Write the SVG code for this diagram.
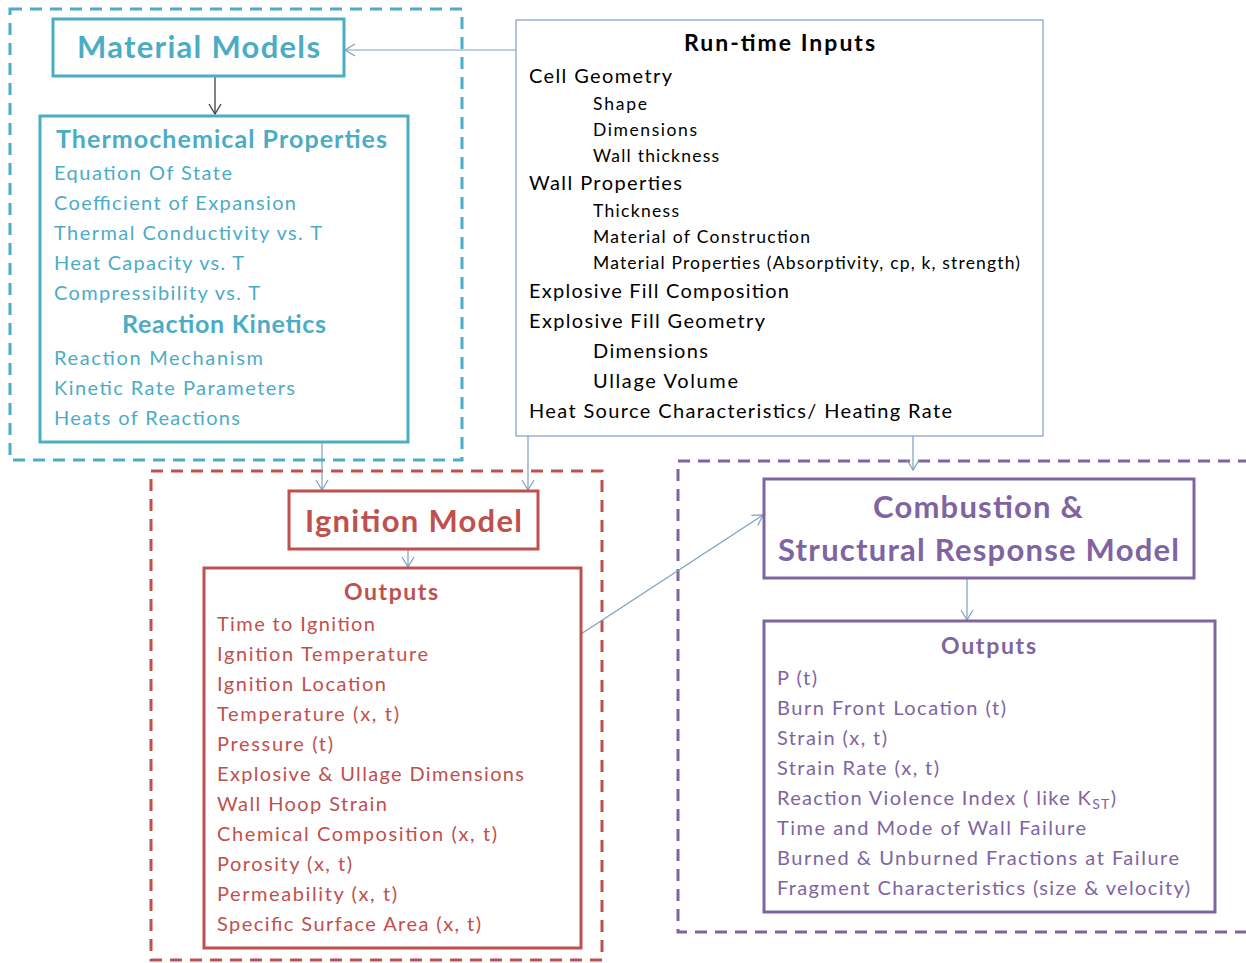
<svg xmlns="http://www.w3.org/2000/svg" width="1246" height="963" viewBox="0 0 1246 963">
<style>
text{font-family:Lato,"Liberation Sans",sans-serif}
.teal{fill:#4BACC6}.red{fill:#C0504D}.pur{fill:#8064A2}.blk{fill:#000}
.b{font-weight:bold}
.it{font-size:20px}
.rt{font-size:20px}
.sub{font-size:17.5px}
.box{fill:#fff;stroke-width:3}
.dash{fill:none;stroke-width:3;stroke-dasharray:12 8}
.con{fill:none;stroke:#7F9FC0;stroke-width:1.2}
</style>
<defs>
<marker id="ah" markerUnits="userSpaceOnUse" markerWidth="14" markerHeight="14" refX="12" refY="7" orient="auto">
<path d="M2,1 L12,7 L2,13" fill="none" stroke="#7F9FC0" stroke-width="1.2"/>
</marker>
<marker id="ahd" markerUnits="userSpaceOnUse" markerWidth="14" markerHeight="14" refX="12" refY="7" orient="auto">
<path d="M2,1 L12,7 L2,13" fill="none" stroke="#404040" stroke-width="1.3"/>
</marker>
</defs>
<rect width="1246" height="963" fill="#fff"/>

<g id="group-material">
<rect class="dash" x="10" y="9" width="452" height="451" stroke="#4BACC6"/>
</g>
<g id="group-ignition">
<rect class="dash" x="151" y="471" width="451" height="489" stroke="#C0504D"/>
</g>
<g id="group-combustion">
<path class="dash" d="M1250,461 H678 V932 H1250" stroke="#8064A2"/>
</g>

<g id="connectors">
<line class="con" x1="516" y1="50" x2="345" y2="50" marker-end="url(#ah)"/>
<line x1="215" y1="77" x2="215" y2="114" stroke="#404040" stroke-width="1.3" marker-end="url(#ahd)"/>
<line class="con" x1="322" y1="442" x2="322" y2="490" marker-end="url(#ah)"/>
<line class="con" x1="528" y1="436" x2="528" y2="490" marker-end="url(#ah)"/>
<line class="con" x1="913" y1="436" x2="913" y2="470" marker-end="url(#ah)"/>
<line class="con" x1="408" y1="550" x2="408" y2="567" marker-end="url(#ah)"/>
<line class="con" x1="581" y1="634" x2="763" y2="515" marker-end="url(#ah)"/>
<line class="con" x1="967" y1="579" x2="967" y2="620" marker-end="url(#ah)"/>
</g>

<g id="material-models">
<rect class="box" x="53" y="19" width="291" height="57" stroke="#4BACC6"/>
<text class="teal b" x="77" y="58" font-size="31" textLength="243" lengthAdjust="spacing">Material Models</text>
</g>

<g id="thermochemical">
<rect class="box" x="40" y="116" width="368" height="326" stroke="#4BACC6"/>
<text class="teal b" x="56" y="148" font-size="25" textLength="331" lengthAdjust="spacing">Thermochemical Properties</text>
<text class="teal it" x="54" y="180" textLength="178" lengthAdjust="spacing">Equation Of State</text>
<text class="teal it" x="54" y="210" textLength="242" lengthAdjust="spacing">Coefficient  of Expansion</text>
<text class="teal it" x="54" y="240" textLength="268" lengthAdjust="spacing">Thermal  Conductivity  vs. T</text>
<text class="teal it" x="54" y="270" textLength="190" lengthAdjust="spacing">Heat Capacity  vs. T</text>
<text class="teal it" x="54" y="300" textLength="206" lengthAdjust="spacing">Compressibility  vs. T</text>
<text class="teal b" x="122" y="333" font-size="25" textLength="204" lengthAdjust="spacing">Reaction Kinetics</text>
<text class="teal it" x="54" y="365" textLength="209" lengthAdjust="spacing">Reaction  Mechanism</text>
<text class="teal it" x="54" y="395" textLength="241" lengthAdjust="spacing">Kinetic  Rate Parameters</text>
<text class="teal it" x="54" y="425" textLength="186" lengthAdjust="spacing">Heats of Reactions</text>
</g>

<g id="runtime-inputs">
<rect x="516" y="20" width="527" height="416" fill="#fff" stroke="#7F9FC0" stroke-width="1.2"/>
<text class="blk b" x="684" y="51" font-size="23" textLength="191" lengthAdjust="spacing">Run-time Inputs</text>
<text class="blk rt" x="529" y="83" textLength="143" lengthAdjust="spacing">Cell Geometry</text>
<text class="blk sub" x="593" y="110" textLength="54" lengthAdjust="spacing">Shape</text>
<text class="blk sub" x="593" y="136" textLength="104" lengthAdjust="spacing">Dimensions</text>
<text class="blk sub" x="593" y="162" textLength="126" lengthAdjust="spacing">Wall thickness</text>
<text class="blk rt" x="529" y="190" textLength="153" lengthAdjust="spacing">Wall Properties</text>
<text class="blk sub" x="593" y="217" textLength="86" lengthAdjust="spacing">Thickness</text>
<text class="blk sub" x="593" y="243" textLength="217" lengthAdjust="spacing">Material of Construction</text>
<text class="blk sub" x="593" y="269" textLength="427" lengthAdjust="spacing">Material Properties (Absorptivity, cp, k, strength)</text>
<text class="blk rt" x="529" y="298" textLength="260" lengthAdjust="spacing">Explosive  Fill Composition</text>
<text class="blk rt" x="529" y="328" textLength="236" lengthAdjust="spacing">Explosive  Fill Geometry</text>
<text class="blk rt" x="593" y="358" textLength="115" lengthAdjust="spacing">Dimensions</text>
<text class="blk rt" x="593" y="388" textLength="145" lengthAdjust="spacing">Ullage Volume</text>
<text class="blk rt" x="529" y="418" textLength="423" lengthAdjust="spacing">Heat Source Characteristics/  Heating Rate</text>
</g>

<g id="ignition-model">
<rect class="box" x="289" y="491" width="249" height="58" stroke="#C0504D"/>
<text class="red b" x="305" y="532" font-size="31" textLength="217" lengthAdjust="spacing">Ignition Model</text>
</g>

<g id="ignition-outputs">
<rect class="box" x="204" y="568" width="377" height="380" stroke="#C0504D"/>
<text class="red b" x="344" y="600" font-size="23" textLength="94" lengthAdjust="spacing">Outputs</text>
<text class="red it" x="217" y="631" textLength="158" lengthAdjust="spacing">Time to Ignition</text>
<text class="red it" x="217" y="661" textLength="211" lengthAdjust="spacing">Ignition Temperature</text>
<text class="red it" x="217" y="691" textLength="169" lengthAdjust="spacing">Ignition Location</text>
<text class="red it" x="217" y="721" textLength="182" lengthAdjust="spacing">Temperature  (x, t)</text>
<text class="red it" x="217" y="751" textLength="116" lengthAdjust="spacing">Pressure (t)</text>
<text class="red it" x="217" y="781" textLength="307" lengthAdjust="spacing">Explosive  &amp; Ullage Dimensions</text>
<text class="red it" x="217" y="811" textLength="170" lengthAdjust="spacing">Wall Hoop Strain</text>
<text class="red it" x="217" y="841" textLength="280" lengthAdjust="spacing">Chemical  Composition  (x, t)</text>
<text class="red it" x="217" y="871" textLength="135" lengthAdjust="spacing">Porosity (x, t)</text>
<text class="red it" x="217" y="901" textLength="180" lengthAdjust="spacing">Permeability  (x, t)</text>
<text class="red it" x="217" y="931" textLength="264" lengthAdjust="spacing">Specific Surface Area (x, t)</text>
</g>

<g id="combustion-model">
<rect class="box" x="764" y="479" width="430" height="99" stroke="#8064A2"/>
<text class="pur b" x="873" y="518" font-size="31" textLength="210" lengthAdjust="spacing">Combustion &amp;</text>
<text class="pur b" x="778" y="561" font-size="31" textLength="401" lengthAdjust="spacing">Structural Response Model</text>
</g>

<g id="combustion-outputs">
<rect class="box" x="764" y="621" width="451" height="291" stroke="#8064A2"/>
<text class="pur b" x="941" y="654" font-size="23" textLength="95" lengthAdjust="spacing">Outputs</text>
<text class="pur it" x="777" y="685" textLength="40" lengthAdjust="spacing">P (t)</text>
<text class="pur it" x="777" y="715" textLength="229" lengthAdjust="spacing">Burn Front Location (t)</text>
<text class="pur it" x="777" y="745" textLength="110" lengthAdjust="spacing">Strain (x, t)</text>
<text class="pur it" x="777" y="775" textLength="162" lengthAdjust="spacing">Strain Rate (x, t)</text>
<text class="pur it" x="777" y="805" textLength="339" lengthAdjust="spacing">Reaction  Violence  Index ( like K<tspan font-size="14" dy="4">ST</tspan><tspan dy="-4">)</tspan></text>
<text class="pur it" x="777" y="835" textLength="309" lengthAdjust="spacing">Time and Mode of Wall  Failure</text>
<text class="pur it" x="777" y="865" textLength="402" lengthAdjust="spacing">Burned &amp; Unburned  Fractions at Failure</text>
<text class="pur it" x="777" y="895" textLength="413" lengthAdjust="spacing">Fragment Characteristics (size &amp; velocity)</text>
</g>
</svg>
